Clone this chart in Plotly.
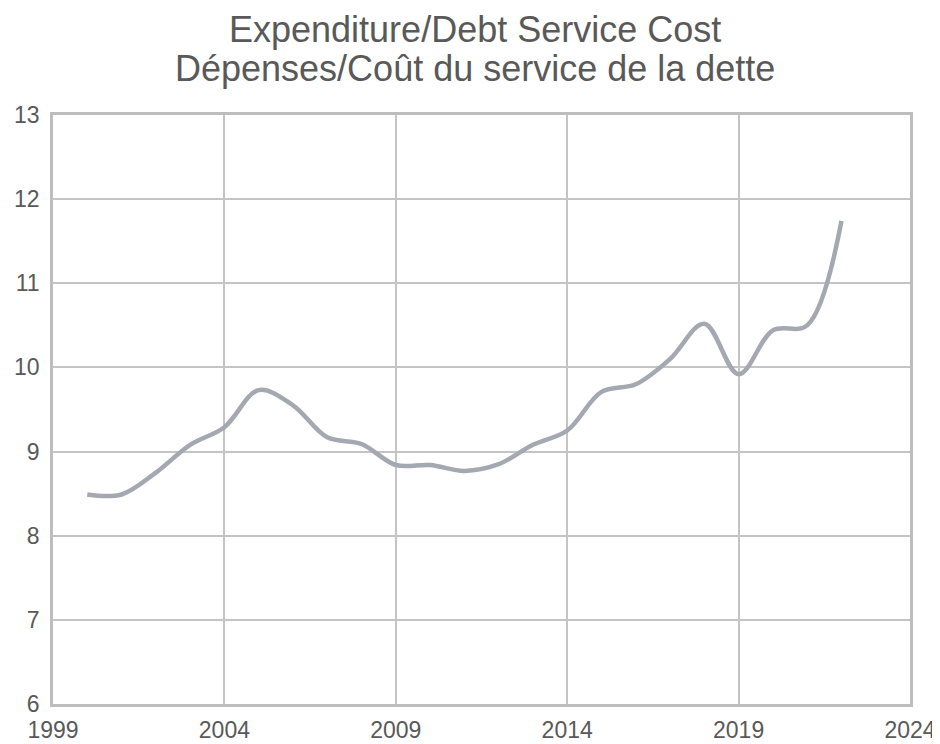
import plotly.graph_objects as go

years = list(range(2000, 2023))
values = [8.49, 8.49, 8.75, 9.08, 9.29, 9.73, 9.55, 9.17, 9.09, 8.84,
          8.84, 8.77, 8.85, 9.08, 9.25, 9.71, 9.80, 10.10, 10.52, 9.92,
          10.44, 10.50, 11.74]
x_ticks = [1999, 2004, 2009, 2014, 2019, 2024]
y_ticks = [6, 7, 8, 9, 10, 11, 12, 13]
title_line1 = "Expenditure/Debt Service Cost"
title_line2 = "Dépenses/Coût du service de la dette"

FONT = "Liberation Sans, Arial, sans-serif"

fig = go.Figure()
fig.add_trace(go.Scatter(
    x=years, y=values, mode="lines",
    line=dict(color="#A3A8B1", width=4.5, shape="spline", smoothing=1.0),
    showlegend=False, hoverinfo="x+y"))

axis_font = dict(family=FONT, size=23, color="#595959")
fig.update_layout(
    width=932, height=736,
    margin=dict(l=45, r=30, t=107, b=40, autoexpand=False),
    paper_bgcolor="white", plot_bgcolor="white",
    xaxis=dict(range=[1999, 2024], tickvals=x_ticks, ticktext=[str(v) for v in x_ticks],
               showgrid=True, gridcolor="#C4C4C4", gridwidth=2,
               showline=True, linecolor="#BDBDBD", linewidth=2.5, mirror=True,
               ticks="outside", ticklen=4, tickcolor="rgba(0,0,0,0)",
               tickfont=axis_font, zeroline=False, automargin=False),
    yaxis=dict(range=[6, 13], tickvals=y_ticks,
               showgrid=True, gridcolor="#C4C4C4", gridwidth=2,
               showline=True, linecolor="#BDBDBD", linewidth=2.5, mirror=True,
               ticks="outside", ticklen=6, tickcolor="rgba(0,0,0,0)",
               tickfont=axis_font, zeroline=False, automargin=False),
)
for txt, yy in [(title_line1, 1.1452), (title_line2, 1.0789)]:
    fig.add_annotation(text=txt, xref="paper", yref="paper", x=0.4924, y=yy,
                       xanchor="center", yanchor="middle", showarrow=False,
                       font=dict(family=FONT, size=36, color="#595959"))
fig.write_html("out.html")
